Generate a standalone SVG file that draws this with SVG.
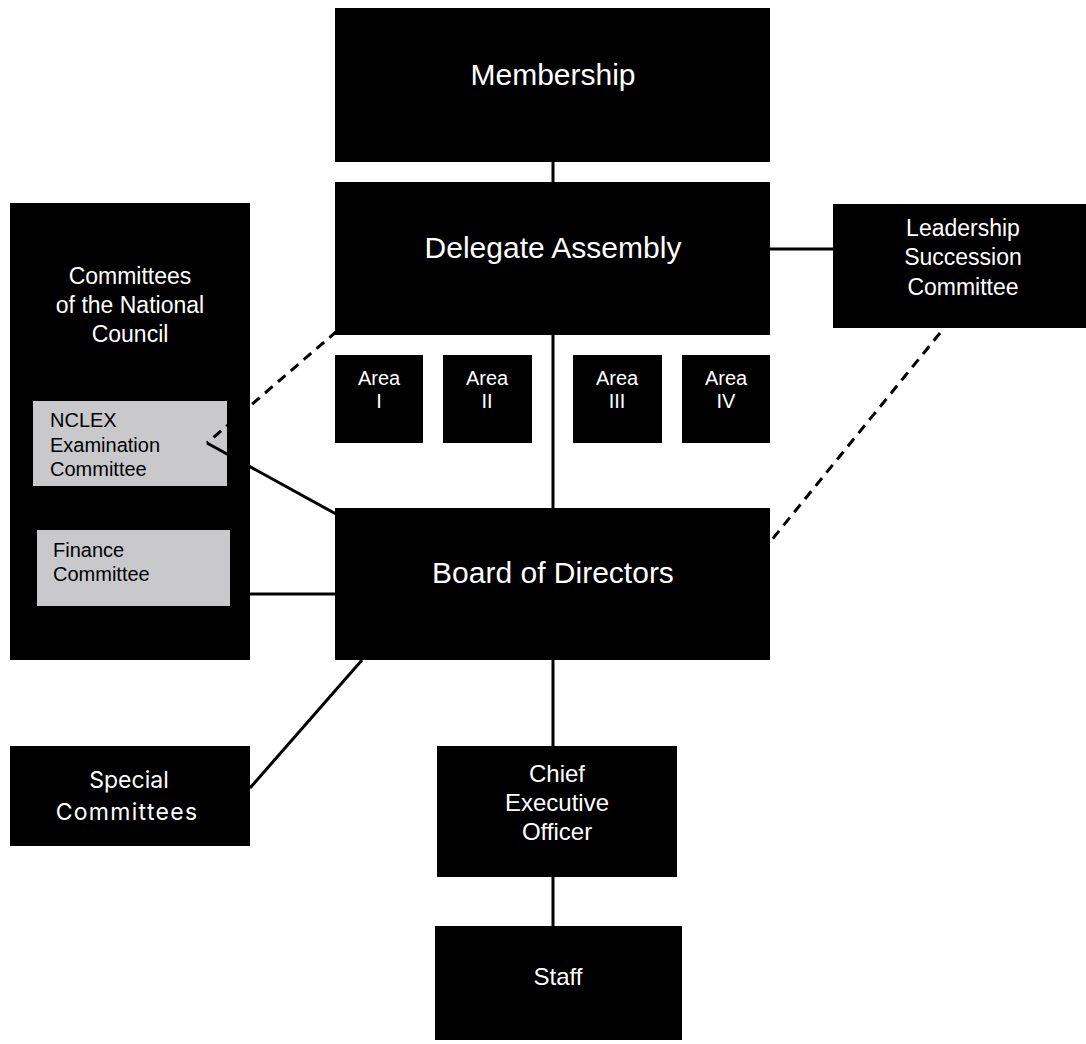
<svg xmlns="http://www.w3.org/2000/svg" width="1086" height="1044" viewBox="0 0 1086 1044">
<style>
.box{fill:#000}
.sub{fill:#c9c9cb}
.t{font-family:"Liberation Sans",Arial,sans-serif;fill:#fff;text-anchor:middle}
.sp{font-family:Inter,"Noto Sans",sans-serif;fill:#fff;text-anchor:middle;font-size:23px}
.tl{font-family:"Liberation Sans",Arial,sans-serif;fill:#000;font-size:20px}
.ln{stroke:#000;stroke-width:3;fill:none}
.dash{stroke:#000;stroke-width:3;fill:none;stroke-dasharray:10,7}
</style>
<rect width="1086" height="1044" fill="#fff"/>
<g id="membership"><rect class="box" x="335" y="8" width="435" height="154"/><text class="t" x="553" y="85" font-size="30">Membership</text></g>
<g id="delegate-assembly"><rect class="box" x="335" y="182" width="435" height="153"/><text class="t" x="553" y="258" font-size="30">Delegate Assembly</text></g>
<g id="area-1"><rect class="box" x="335" y="355" width="88" height="88"/><text class="t" x="379" y="385" font-size="20">Area</text><text class="t" x="379" y="408" font-size="20">I</text></g>
<g id="area-2"><rect class="box" x="443" y="355" width="89" height="88"/><text class="t" x="487" y="385" font-size="20">Area</text><text class="t" x="487" y="408" font-size="20">II</text></g>
<g id="area-3"><rect class="box" x="573" y="355" width="89" height="88"/><text class="t" x="617" y="385" font-size="20">Area</text><text class="t" x="617" y="408" font-size="20">III</text></g>
<g id="area-4"><rect class="box" x="682" y="355" width="88" height="88"/><text class="t" x="726" y="385" font-size="20">Area</text><text class="t" x="726" y="408" font-size="20">IV</text></g>
<g id="leadership-succession"><rect class="box" x="833" y="204" width="253" height="124"/><text class="t" x="963" y="236" font-size="23">Leadership</text><text class="t" x="963" y="265" font-size="23">Succession</text><text class="t" x="963" y="295" font-size="23">Committee</text></g>
<g id="committees-national-council"><rect class="box" x="10" y="203" width="240" height="457"/><text class="t" x="130" y="284" font-size="23">Committees</text><text class="t" x="130" y="313" font-size="23">of the National</text><text class="t" x="130" y="342" font-size="23">Council</text></g>
<g id="nclex"><rect class="sub" x="33" y="401" width="194" height="85"/><text class="tl" x="50" y="427">NCLEX</text><text class="tl" x="50" y="452">Examination</text><text class="tl" x="50" y="476">Committee</text></g>
<g id="finance"><rect class="sub" x="37" y="530" width="193" height="76"/><text class="tl" x="53" y="557">Finance</text><text class="tl" x="53" y="581">Committee</text></g>
<g id="board"><rect class="box" x="335" y="508" width="435" height="152"/><text class="t" x="553" y="583" font-size="30">Board of Directors</text></g>
<g id="special-committees"><rect class="box" x="10" y="746" width="240" height="100"/><text class="sp" x="129" y="788">Special</text><text class="sp" x="127" y="820" letter-spacing="1.3">Committees</text></g>
<g id="ceo"><rect class="box" x="437" y="746" width="240" height="131"/><text class="t" x="557" y="782" font-size="24">Chief</text><text class="t" x="557" y="811" font-size="24">Executive</text><text class="t" x="557" y="840" font-size="24">Officer</text></g>
<g id="staff"><rect class="box" x="435" y="926" width="247" height="114"/><text class="t" x="558" y="985" font-size="24">Staff</text></g>
<g id="connectors">
<line class="ln" x1="553" y1="162" x2="553" y2="182"/>
<line class="ln" x1="553" y1="335" x2="553" y2="508"/>
<line class="ln" x1="770" y1="249" x2="833" y2="249"/>
<line class="ln" x1="250" y1="594" x2="335" y2="594"/>
<line class="ln" x1="553" y1="660" x2="553" y2="746"/>
<line class="ln" x1="553" y1="877" x2="553" y2="926"/>
<line class="ln" x1="250" y1="788" x2="362" y2="660"/>
<line class="ln" x1="207" y1="443" x2="336" y2="514"/>
<line class="dash" x1="337" y1="331" x2="207" y2="443"/>
<line class="dash" x1="940" y1="333" x2="770" y2="542"/>
</g>
</svg>
